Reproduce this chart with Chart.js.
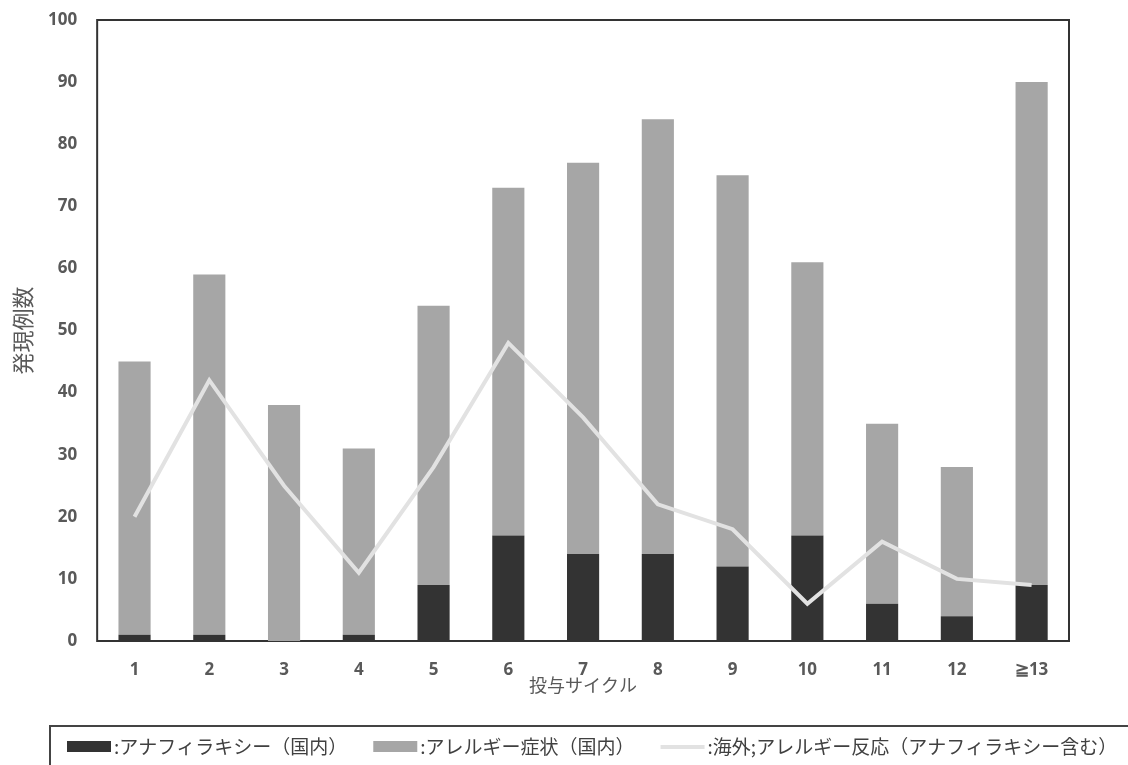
<!DOCTYPE html>
<html>
<head>
<meta charset="utf-8">
<script src="https://cdn.jsdelivr.net/npm/chart.js@4.4.1/dist/chart.umd.min.js"></script>
<style>
  html, body { margin: 0; padding: 0; background: #fff; }
  #wrap { width: 1128px; height: 765px; }
</style>
</head>
<body>
<div id="wrap"><canvas id="cycleChart" width="1128" height="765"></canvas></div>
<script>
// 投与サイクル別の発現例数
var cycles = ['1', '2', '3', '4', '5', '6', '7', '8', '9', '10', '11', '12', '≧13'];
var anaphylaxisDomestic = [1, 1, 0, 1, 9, 17, 14, 14, 12, 17, 6, 4, 9];
var allergyDomestic = [44, 58, 38, 30, 45, 56, 63, 70, 63, 44, 29, 24, 81];
var allergyOverseas = [20, 42, 25, 11, 28, 48, 36, 22, 18, 6, 16, 10, 9];
var yTicks = [0, 10, 20, 30, 40, 50, 60, 70, 80, 90, 100];

var textGray = '#595959';
var jpFont = "'Noto Sans CJK JP', 'Noto Sans', sans-serif";
var numFont = "'Open Sans', 'Noto Sans', sans-serif";

// frame around the plot area
var framePlugin = {
    id: 'frame',
    beforeDatasetsDraw: function (chart) {
        var a = chart.chartArea;
        var c = chart.ctx;
        c.save();
        c.strokeStyle = '#333';
        c.lineWidth = 2;
        c.strokeRect(a.left, a.top, a.right - a.left, a.bottom - a.top);
        c.restore();
    }
};

// legend in one row inside an open box under the x axis title
var boxLegend = {
    id: 'boxLegend',
    afterDraw: function (chart) {
        var c = chart.ctx;
        var top = chart.height - 39;
        var cy = top + 21;
        c.save();
        c.strokeStyle = '#444';
        c.lineWidth = 2;
        c.strokeRect(50, top, chart.width + 20, 60);

        c.font = "19px " + jpFont;
        c.textBaseline = 'middle';
        var x = 67;
        chart.data.datasets.forEach(function (ds) {
            if (ds.type === 'line') {
                c.strokeStyle = ds.borderColor;
                c.lineWidth = ds.borderWidth;
                c.beginPath();
                c.moveTo(x, cy);
                c.lineTo(x + 44, cy);
                c.stroke();
            } else {
                c.fillStyle = ds.backgroundColor;
                c.fillRect(x, cy - 6, 44, 11);
            }
            x += 47;
            c.fillStyle = '#404040';
            c.fillText(ds.label, x, cy);
            x += c.measureText(ds.label).width + 26;
        });
        c.restore();
    }
};

var ctx = document.getElementById('cycleChart');
new Chart(ctx, {
    type: 'bar',
    data: {
        labels: cycles,
        datasets: [
            {
                label: ':アナフィラキシー（国内）',
                data: anaphylaxisDomestic,
                backgroundColor: '#333333',
                borderWidth: 0,
                barPercentage: 0.43,
                categoryPercentage: 1,
                order: 1
            },
            {
                label: ':アレルギー症状（国内）',
                data: allergyDomestic,
                backgroundColor: '#a6a6a6',
                borderWidth: 0,
                barPercentage: 0.43,
                categoryPercentage: 1,
                order: 1
            },
            {
                type: 'line',
                label: ':海外;アレルギー反応（アナフィラキシー含む）',
                data: allergyOverseas,
                borderColor: '#e2e2e2',
                backgroundColor: '#e2e2e2',
                borderWidth: 4,
                pointRadius: 0,
                tension: 0,
                stack: 'overseas',
                order: 0
            }
        ]
    },
    options: {
        responsive: false,
        animation: false,
        layout: { padding: { top: 10, left: 12, right: 59, bottom: 71 } },
        scales: {
            x: {
                stacked: true,
                grid: { display: false, drawTicks: false },
                border: { display: false },
                ticks: {
                    color: textGray,
                    padding: 21,
                    font: { family: numFont, size: 17, weight: 'bold', lineHeight: 1 }
                },
                title: {
                    display: true,
                    text: '投与サイクル',
                    color: textGray,
                    padding: { top: -24, bottom: 0 },
                    font: { family: jpFont, size: 18, lineHeight: 1 }
                }
            },
            y: {
                stacked: true,
                min: 0,
                max: 100,
                afterBuildTicks: function (axis) {
                    axis.ticks = yTicks.map(function (v) { return { value: v }; });
                },
                grid: { display: false, drawTicks: false },
                border: { display: false },
                ticks: {
                    color: textGray,
                    padding: 20,
                    // zero line height keeps the top label from pushing the plot down
                    font: { family: numFont, size: 17, weight: 'bold', lineHeight: 0 }
                },
                title: {
                    display: true,
                    text: '発現例数',
                    color: textGray,
                    padding: { top: 0, bottom: -6 },
                    font: { family: jpFont, size: 22, lineHeight: 1 }
                }
            }
        },
        plugins: {
            legend: { display: false },
            tooltip: { enabled: false }
        }
    },
    plugins: [framePlugin, boxLegend]
});
</script>
</body>
</html>
